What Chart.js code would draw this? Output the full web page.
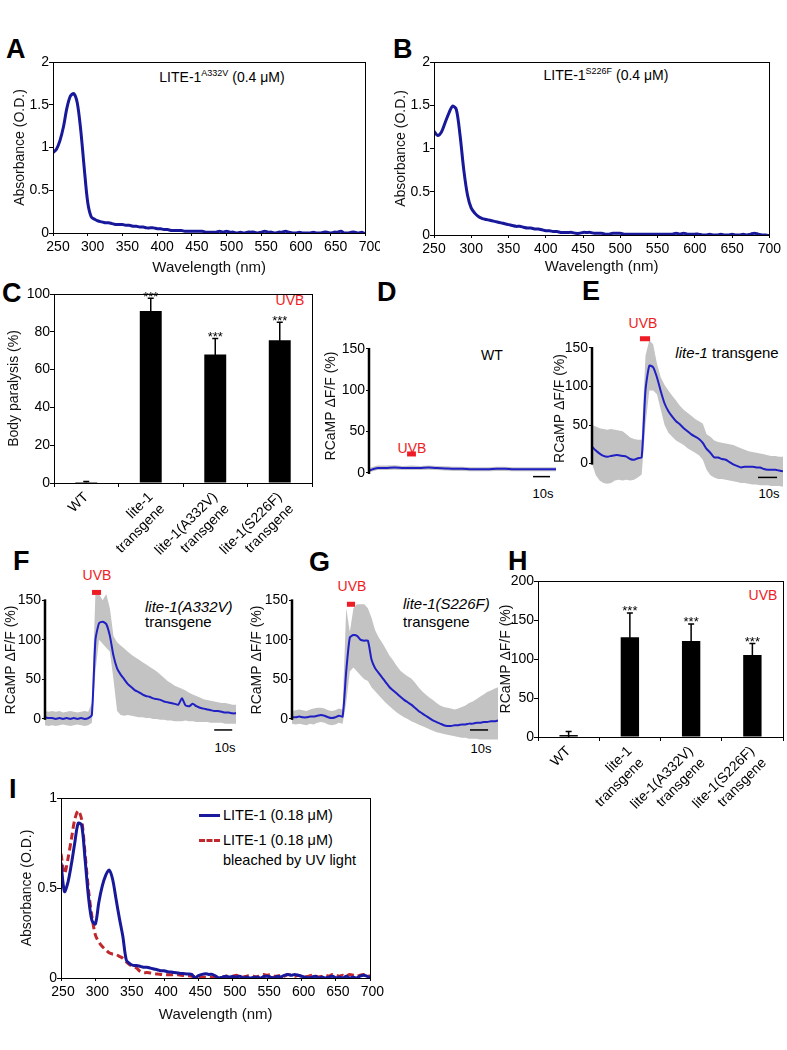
<!DOCTYPE html>
<html>
<head>
<meta charset="utf-8">
<script src="https://cdn.jsdelivr.net/npm/chart.js@4.4.1/dist/chart.umd.min.js"></script>
<style>
  html, body { margin: 0; padding: 0; background: #fff; }
  #fig { position: relative; width: 787px; height: 1050px; overflow: hidden; font-family: 'Liberation Sans', Arial, sans-serif; color: #000; }
  #fig canvas { position: absolute; }
  .t { position: absolute; transform: translate(-50%, -50%); white-space: nowrap; font-size: 14px; line-height: 1; }
  .l { position: absolute; transform: translateY(-50%); white-space: nowrap; font-size: 15px; line-height: 1; }
  .letter { position: absolute; font-weight: bold; font-size: 27px; line-height: 1; }
  .uvb { color: #ee1c24; }
  sup { font-size: 9px; vertical-align: 6px; line-height: 0; }
  .key { position: absolute; width: 21px; height: 0; }
</style>
</head>
<body>
<div id="fig">
  <div class="letter" style="left:6px;top:36px">A</div>
  <div class="letter" style="left:393px;top:36px">B</div>
  <div class="letter" style="left:2px;top:280px">C</div>
  <div class="letter" style="left:377px;top:279px">D</div>
  <div class="letter" style="left:582px;top:278px">E</div>
  <div class="letter" style="left:13px;top:548px">F</div>
  <div class="letter" style="left:309px;top:549px">G</div>
  <div class="letter" style="left:508px;top:548px">H</div>
  <div class="letter" style="left:9px;top:776px">I</div>

  <div class="t" style="left:222px;top:77px">LITE-1<sup>A332V</sup> (0.4 μM)</div>
  <div class="t" style="left:606px;top:75px">LITE-1<sup>S226F</sup> (0.4 μM)</div>

  <div class="t uvb" style="left:290px;top:300px">UVB</div>
  <div class="t uvb" style="left:763px;top:595px">UVB</div>

  <div class="t" style="left:492px;top:355px">WT</div>
  <div class="t uvb" style="left:412px;top:448px">UVB</div>
  <div class="t" style="left:543px;top:493px;font-size:13px">10s</div>

  <div class="t" style="left:727px;top:352px;font-size:15px"><i>lite-1</i> transgene</div>
  <div class="t uvb" style="left:643px;top:323px">UVB</div>
  <div class="t" style="left:769px;top:493px;font-size:13px">10s</div>

  <div class="l" style="left:145px;top:606px"><i>lite-1(A332V)</i></div>
  <div class="l" style="left:145px;top:621px">transgene</div>
  <div class="t uvb" style="left:97px;top:575px">UVB</div>
  <div class="t" style="left:225px;top:747px;font-size:13px">10s</div>

  <div class="l" style="left:403px;top:603px"><i>lite-1(S226F)</i></div>
  <div class="l" style="left:403px;top:621px">transgene</div>
  <div class="t uvb" style="left:352px;top:586px">UVB</div>
  <div class="t" style="left:481px;top:748px;font-size:13px">10s</div>

  <div class="key" style="left:199px;top:814px;border-top:3px solid #1a1a9c"></div>
  <div class="l" style="left:223px;top:815px;font-size:14.5px">LITE-1 (0.18 μM)</div>
  <div class="key" style="left:199px;top:839px;border-top:3px dashed #c0282d"></div>
  <div class="l" style="left:223px;top:840px;font-size:14.5px">LITE-1 (0.18 μM)</div>
  <div class="l" style="left:223px;top:860px;font-size:14.5px">bleached by UV light</div>
</div>

<script>
// ---- data ----
const wavelengths = [250,255,260,265,270,275,280,285,290,295,300,305,310,315,320,325,330,335,340,345,
  350,355,360,365,370,375,380,385,390,395,400,405,410,415,420,425,430,435,440,445,
  450,455,460,465,470,475,480,485,490,495,500,505,510,515,520,525,530,535,540,545,
  550,555,560,565,570,575,580,585,590,595,600,605,610,615,620,625,630,635,640,645,
  650,655,660,665,670,675,680,685,690,695,700];

const absA332V = [0.94,0.98,1.08,1.24,1.46,1.60,1.63,1.52,1.20,0.76,0.36,0.19,0.16,0.14,0.13,0.12,0.12,0.11,0.10,0.10,
  0.10,0.09,0.09,0.08,0.08,0.07,0.07,0.06,0.06,0.06,0.05,0.05,0.04,0.04,0.03,0.03,0.03,0.03,0.02,0.02,
  0.02,0.02,0.02,0.02,0.01,0.01,0.01,0.01,0.02,0.01,0.02,0.01,0.01,0.00,0.01,0.00,0.01,0.01,0.01,0.00,
  0.01,0.02,0.01,0.01,0.00,0.01,0.01,0.02,0.01,0.00,0.00,0.01,0.00,0.00,0.00,0.01,0.00,0.00,0.01,0.01,
  0.00,0.01,0.01,0.02,0.00,0.00,0.01,0.01,0.00,0.01,-0.01];

const absS226F = [1.20,1.15,1.19,1.30,1.41,1.49,1.45,1.15,0.75,0.46,0.31,0.25,0.21,0.19,0.18,0.17,0.16,0.15,0.14,0.13,
  0.12,0.11,0.10,0.10,0.09,0.08,0.08,0.07,0.07,0.06,0.05,0.05,0.04,0.04,0.03,0.03,0.03,0.03,0.02,0.02,
  0.03,0.03,0.03,0.02,0.02,0.02,0.01,0.01,0.02,0.02,0.02,0.01,0.01,0.01,0.01,0.01,0.01,0.01,0.01,0.01,
  0.01,0.01,0.01,0.01,0.01,0.02,0.01,0.02,0.01,0.01,0.01,0.01,0.00,0.00,0.01,0.00,0.00,0.01,0.00,0.00,
  0.01,0.00,0.00,0.01,0.00,0.01,0.02,0.01,0.00,0.00,-0.01];

const absLite1 = [0.64,0.48,0.53,0.63,0.75,0.86,0.85,0.66,0.45,0.32,0.30,0.42,0.51,0.57,0.60,0.55,0.44,0.33,0.23,0.10,
  0.08,0.07,0.07,0.065,0.06,0.06,0.055,0.05,0.046,0.04,0.04,0.035,0.033,0.03,0.028,0.025,0.024,0.022,0.02,0.0,
  0.013,0.02,0.024,0.02,0.02,0.01,0.0,0.005,0.01,0.005,0.008,0.005,0.01,0.0,0.005,0.0,0.003,0.005,0.0,0.008,
  0.01,0.005,0.0,0.01,0.005,0.015,0.02,0.015,0.02,0.015,0.01,0.005,0.0,0.005,0.01,0.0,0.005,0.0,0.005,0.01,
  0.0,0.005,0.0,0.01,0.0,0.005,0.0,0.01,0.015,0.01,0.0];

const absLite1Bleached = [0.69,0.58,0.66,0.77,0.88,0.93,0.88,0.69,0.49,0.34,0.24,0.20,0.175,0.157,0.14,0.133,0.13,0.12,0.11,0.09,
  0.074,0.065,0.055,0.037,0.03,0.03,0.028,0.025,0.022,0.02,0.018,0.018,0.018,0.018,0.018,0.015,0.013,0.012,0.01,0.008,
  0.005,0.005,0.004,0.004,0.005,0.003,0.0,0.005,0.01,0.015,0.01,0.015,0.01,0.005,0.01,0.015,0.01,0.005,0.015,0.02,
  0.015,0.02,0.01,0.01,0.015,0.01,0.02,0.015,0.01,0.015,0.01,0.005,0.01,0.015,0.01,0.005,0.01,0.015,0.01,0.02,
  0.015,0.01,0.015,0.01,0.02,0.015,0.01,0.015,0.02,0.015,0.01];

const groupLabels = ['WT', ['lite-1', 'transgene'], ['lite-1(A332V)', 'transgene'], ['lite-1(S226F)', 'transgene']];
const paralysis = [0.5, 91, 68, 75.5];
const paralysisSD = [0.3, 6.7, 8.5, 9.5];
const rcampPeak = [2.5, 128, 123, 105];
const rcampPeakSD = [4.5, 31, 22, 15];
const stars = ['', '***', '***', '***'];

const rcampTicks = [0, 50, 100, 150];

// D: wild type, 5 s samples
const timeD = [0,5,10,15,20,25,30,35,40,45,50,55,60,65,70,75,80,85,90,95,100,105,110];
const meanD = [3,6,6,6.5,6,6,6,6.5,6,5.5,5,5,4.5,4.5,4.5,5,5,4.5,4.5,4.5,4.5,4.5,4.5];
const upperD = [6,9,9,9.5,8.5,9,8.5,9,8.5,8,7.5,7.5,7,7,7,7.5,7.5,7,7,7,7,7,7];
const lowerD = [1,3.5,3.5,4,3.5,3.5,3.5,4,3.5,3,2.5,2.5,2,2,2,2.5,2.5,2,2,2,2,2,2];
const uvbD = [22.4, 27.6];
const scaleBarD = [96.5, 106.5];

// E: lite-1 transgene, 2 s samples
const timeE = [0,2,4,6,8,10,12,14,16,18,20,22,24,26,28,30,32,34,36,38,40,42,44,46,48,50,
  52,54,56,58,60,62,64,66,68,70,72,74,76,78,80,82,84,86,88,90,92,94,96,98,100];
const meanE = [22,17,13,10,9,10,11,11,10,9,6,5,7,8,95,127,125,112,94,78,68,61,55,51,46,42,
  38,35,32,27,19,14,8,8,6,5,2,-1,-3,-5,-4,-4,-4,-5,-5,-7,-8,-8,-8,-9,-10];
const upperE = [50,48,46,45,44,45,44,43,42,38,34,32,31,31,140,160,155,130,112,102,95,88,82,75,70,66,
  62,58,55,52,38,35,30,28,27,26,25,24,22,20,18,16,15,14,13,12,11,10,10,9,9];
const lowerE = [0,-15,-22,-25,-26,-25,-22,-21,-22,-21,-22,-21,-18,-14,50,95,95,90,70,50,40,35,30,27,24,20,
  17,14,11,5,-8,-15,-18,-20,-20,-21,-22,-23,-24,-25,-25,-26,-27,-27,-28,-28,-28,-29,-29,-29,-30];
const uvbE = [25.1, 30.4];
const scaleBarE = [86.9, 96.9];

// F: lite-1(A332V) transgene
const timeF = [0,2,4,6,8,10,12,14,16,18,20,22,24,26,28,30,32,34,36,38,40,42,44,46,48,50,52,
  54,56,58,60,62,64,66,68,70,72,74,76,78,80,82,84,86,88,90,92,94,96,98,100,102,104,106];
const meanF = [2,1,1,0,1,0,1,0,1,0,1,0,1,5,100,121,123,120,105,80,64,56,50,44,40,36,34,
  31,29,28,26,25,24,22,21,20,19,18,26,17,16,19,16,14,13,12,11,10,10,9,8,8,7,7];
const upperF = [10,9,10,9,10,8,9,10,9,8,9,10,9,20,160,158,150,158,140,105,97,93,89,85,81,78,75,
  72,69,66,63,60,56,52,48,45,42,40,38,36,33,31,29,27,25,24,23,22,21,20,20,19,18,18];
const lowerF = [-8,-9,-8,-9,-8,-7,-8,-9,-8,-7,-8,-9,-8,-5,60,100,95,90,85,50,10,5,4,5,4,3,2,
  2,1,1,0,0,-1,-1,-2,-2,-3,-3,-3,-2,-3,-3,-4,-4,-4,-4,-5,-5,-5,-5,-6,-6,-6,-6];
const uvbF = [26.1, 31.1];
const scaleBarF = [93.9, 103.9];

// G: lite-1(S226F) transgene
const timeG = [0,2,4,6,8,10,12,14,16,18,20,22,24,26,28,30,32,34,36,38,40,42,44,46,48,50,52,54,56,
  58,60,62,64,66,68,70,72,74,76,78,80,82,84,86,88,90,92,94,96,98,100,102,104,106,108,110,112,114];
const meanG = [2,2,3,2,2,3,3,4,5,4,2,1,2,4,3,60,103,106,105,100,99,99,75,64,58,52,46,40,36,
  32,28,24,21,18,14,10,7,4,1,-2,-4,-6,-8,-9,-9,-8,-8,-7,-7,-6,-6,-5,-5,-4,-4,-3,-3,-2];
const upperG = [10,11,12,11,10,12,13,14,14,13,11,10,11,13,12,140,110,140,145,145,145,140,128,112,103,96,88,80,74,
  67,61,57,54,51,46,40,35,31,27,24,20,17,15,14,13,12,13,15,17,20,22,25,28,31,34,36,38,40];
const lowerG = [-6,-7,-6,-7,-8,-6,-7,-5,-4,-5,-7,-8,-7,-5,-6,20,60,65,60,55,50,48,40,35,30,25,20,16,12,
  8,5,2,0,-3,-5,-7,-9,-11,-13,-15,-17,-18,-19,-20,-21,-22,-23,-24,-24,-25,-25,-25,-26,-26,-26,-26,-26,-26];
const uvbG = [30.4, 34.9];
const scaleBarG = [98.5, 108.5];

// ---- drawing ----
Chart.defaults.font.family = "'Liberation Sans', Arial, sans-serif";
Chart.defaults.color = '#000';

const SPEC_BLUE = '#18189a';
const TRACE_BLUE = '#1f1fc4';
const UVB_RED = '#ee1c24';
const BAND_GREY = '#c3c3c3';

const fig = document.getElementById('fig');

function xy(xs, ys) {
  return xs.map((x, i) => ({ x, y: ys[i] }));
}

// a: chart area in page pixels plus title position; returns canvas box and paddings
function geometry(a) {
  const L = Math.round(a.yTitleX - 9);
  const T = Math.round(a.top - a.pt);
  const xh = a.xh || 0;
  const W = Math.round(a.right + a.pr - L);
  const H = Math.round(a.bottom + xh + (a.pb || 0) - T);
  return {
    L, T, W, H, xh,
    yw: a.left - L,
    pt: a.top - T,
    pr: L + W - a.right,
    pb: H - (a.bottom + xh - T),
    titlePad: a.yTitleX - L - 8.4,
  };
}

function addCanvas(g) {
  const c = document.createElement('canvas');
  c.width = g.W;
  c.height = g.H;
  c.style.left = g.L + 'px';
  c.style.top = g.T + 'px';
  fig.appendChild(c);
  return c;
}

const framePlugin = {
  id: 'frame',
  afterDatasetsDraw(chart) {
    const { ctx, chartArea: a } = chart;
    ctx.save();
    ctx.strokeStyle = '#000';
    ctx.lineWidth = 1;
    ctx.strokeRect(Math.round(a.left) + 0.5, Math.round(a.top) + 0.5,
      Math.round(a.right - a.left), Math.round(a.bottom - a.top));
    ctx.restore();
  },
};

const partialAxis = {
  id: 'partialAxis',
  afterDatasetsDraw(chart) {
    const { ctx, chartArea, scales } = chart;
    const x = chartArea.left;
    ctx.save();
    ctx.strokeStyle = '#000';
    ctx.lineWidth = 2.5;
    ctx.beginPath();
    ctx.moveTo(x, scales.y.getPixelForValue(rcampTicks[0]) + 1);
    ctx.lineTo(x, scales.y.getPixelForValue(rcampTicks[rcampTicks.length - 1]) - 1);
    ctx.stroke();
    ctx.restore();
  },
};

function errorBars(sd, marks) {
  return {
    id: 'errorBars',
    afterDatasetsDraw(chart) {
      const { ctx, scales } = chart;
      const meta = chart.getDatasetMeta(0);
      const values = chart.data.datasets[0].data;
      ctx.save();
      ctx.strokeStyle = '#000';
      ctx.fillStyle = '#000';
      ctx.lineWidth = 1.5;
      ctx.font = "13px 'Liberation Sans', Arial, sans-serif";
      ctx.textAlign = 'center';
      ctx.textBaseline = 'alphabetic';
      meta.data.forEach((bar, i) => {
        const top = scales.y.getPixelForValue(values[i] + sd[i]);
        const bottom = scales.y.getPixelForValue(Math.max(0, values[i] - sd[i]));
        ctx.beginPath();
        ctx.moveTo(bar.x, bottom);
        ctx.lineTo(bar.x, top);
        ctx.moveTo(bar.x - 3, top);
        ctx.lineTo(bar.x + 3, top);
        ctx.stroke();
        if (marks[i]) ctx.fillText(marks[i], bar.x, top + 2.5);
      });
      ctx.restore();
    },
  };
}

function yAxis(g, min, max, step, title, extra) {
  return Object.assign({
    min, max,
    ticks: { stepSize: step, font: { size: 14 }, padding: 0, callback: (v) => String(v) },
    grid: { drawOnChartArea: false, tickLength: 4, color: '#000' },
    border: { display: false },
    title: { display: true, text: title, font: { size: 14 }, color: '#111', padding: { top: g.titlePad, bottom: 0 } },
    afterFit(s) { s.width = g.yw; },
  }, extra || {});
}

function baseOptions(g) {
  return {
    responsive: false,
    animation: false,
    events: [],
    layout: { padding: { left: 0, top: g.pt, right: g.pr, bottom: g.pb } },
    plugins: { legend: { display: false }, tooltip: { enabled: false } },
  };
}

function spectrumChart(area, datasets, yMax, labelOffset) {
  const g = geometry(area);
  const opts = baseOptions(g);
  opts.scales = {
    x: {
      type: 'linear', min: 250, max: 700,
      ticks: { stepSize: 50, font: { size: 14 }, padding: 3, maxRotation: 0, labelOffset: labelOffset || 0 },
      grid: { drawOnChartArea: false, tickLength: 3, color: '#000' },
      border: { display: false },
      title: { display: true, text: 'Wavelength (nm)', font: { size: 15 }, color: '#111', padding: { top: 0, bottom: 0 } },
      afterFit(s) { s.height = g.xh; },
    },
    y: yAxis(g, 0, yMax, 0.5, 'Absorbance (O.D.)'),
  };
  new Chart(addCanvas(g), { type: 'line', data: { datasets }, options: opts, plugins: [framePlugin] });
}

function specLine(values, color, dash) {
  return {
    data: xy(wavelengths, values),
    borderColor: color,
    borderWidth: 3,
    borderDash: dash || [],
    pointRadius: 0,
    tension: 0.3,
    fill: false,
  };
}

function barChart(area, values, sd, title, yMax, yStep, barPct) {
  const g = geometry(area);
  const opts = baseOptions(g);
  opts.scales = {
    x: {
      ticks: { font: { size: 14 }, minRotation: 45, maxRotation: 45, padding: 2, autoSkip: false },
      grid: { drawOnChartArea: false, tickLength: 4, color: '#000', offset: true },
      border: { display: false },
      afterFit(s) { s.height = g.xh; },
    },
    y: yAxis(g, 0, yMax, yStep, title),
  };
  new Chart(addCanvas(g), {
    type: 'bar',
    data: {
      labels: groupLabels,
      datasets: [{ data: values, backgroundColor: '#000', barPercentage: barPct, categoryPercentage: 1 }],
    },
    options: opts,
    plugins: [framePlugin, errorBars(sd, stars)],
  });
}

// trace panel: x0/x1 page px of time range, zeroY/topY page px of 0 and 150
function traceChart(p) {
  const k = (p.zeroY - p.topY) / 150;
  const g = geometry({
    left: p.x0, right: p.x1,
    top: p.zeroY - p.ymax * k, bottom: p.zeroY - p.ymin * k,
    yTitleX: p.yTitleX, pt: 2, pr: 3, pb: 2,
  });
  const opts = baseOptions(g);
  opts.scales = {
    x: { type: 'linear', min: p.time[0], max: p.time[p.time.length - 1], display: false },
    y: yAxis(g, p.ymin, p.ymax, 50, 'RCaMP ΔF/F (%)', {
      afterBuildTicks(s) { s.ticks = rcampTicks.map(v => ({ value: v })); },
      ticks: { font: { size: 14 }, padding: 1 },
      grid: { drawOnChartArea: false, tickLength: 3, color: '#000' },
    }),
  };
  const clear = 'rgba(0,0,0,0)';
  // lower "order" is painted later, so the markers sit on top of the band
  const datasets = [
    { data: xy(p.time, p.mean), order: 0, borderColor: TRACE_BLUE, borderWidth: 2, pointRadius: 0, tension: 0.2, fill: false },
    { data: xy(p.time, p.upper), order: 1, borderColor: clear, borderWidth: 1, pointRadius: 0, fill: false },
    { data: xy(p.time, p.lower), order: 1, borderColor: clear, borderWidth: 1, pointRadius: 0, fill: '-1', backgroundColor: BAND_GREY },
    { data: p.uvb.map(t => ({ x: t, y: p.uvbY })), order: -1, borderColor: UVB_RED, borderWidth: 5, borderCapStyle: 'butt', pointRadius: 0, clip: false },
    { data: p.bar.map(t => ({ x: t, y: p.barY })), order: -1, borderColor: '#000', borderWidth: 1.5, pointRadius: 0, clip: false },
  ];
  new Chart(addCanvas(g), { type: 'line', data: { datasets }, options: opts, plugins: [partialAxis] });
}

// A, B
spectrumChart({ left: 53, top: 62, right: 366, bottom: 233, yTitleX: 20, pt: 12, pr: 14, xh: 44 },
  [specLine(absA332V, SPEC_BLUE)], 2, 5);
spectrumChart({ left: 434, top: 62, right: 770, bottom: 235, yTitleX: 401, pt: 12, pr: 14, xh: 41 },
  [specLine(absS226F, SPEC_BLUE)], 2, 0);

// C, H
barChart({ left: 54, top: 294, right: 312, bottom: 483, yTitleX: 14, pt: 12, pr: 4, xh: 80 },
  paralysis, paralysisSD, 'Body paralysis (%)', 100, 20, 0.34);
barChart({ left: 538, top: 581, right: 783, bottom: 737, yTitleX: 506, pt: 12, pr: 3, xh: 90 },
  rcampPeak, rcampPeakSD, 'RCaMP ΔF/F (%)', 200, 50, 0.3);

// D, E, F, G
traceChart({ x0: 369, x1: 556, zeroY: 480, topY: 343, ymin: -8, ymax: 170, yTitleX: 331,
  time: timeD, mean: meanD, upper: upperD, lower: lowerD, uvb: uvbD, uvbY: 23, bar: scaleBarD, barY: -4.4 });
traceChart({ x0: 592, x1: 783, zeroY: 469, topY: 343, ymin: -35, ymax: 178, yTitleX: 560,
  time: timeE, mean: meanE, upper: upperE, lower: lowerE, uvb: uvbE, uvbY: 162, bar: scaleBarE, barY: -17.9 });
traceChart({ x0: 45, x1: 236, zeroY: 724, topY: 595, ymin: -30, ymax: 179, yTitleX: 11,
  time: timeF, mean: meanF, upper: upperF, lower: lowerF, uvb: uvbF, uvbY: 160, bar: scaleBarF, barY: -14 });
traceChart({ x0: 292, x1: 498, zeroY: 724, topY: 595, ymin: -30, ymax: 179, yTitleX: 257,
  time: timeG, mean: meanG, upper: upperG, lower: lowerG, uvb: uvbG, uvbY: 145, bar: scaleBarG, barY: -14 });

// I
spectrumChart({ left: 61, top: 798, right: 371, bottom: 978, yTitleX: 27, pt: 12, pr: 14, xh: 46 },
  [specLine(absLite1, SPEC_BLUE), specLine(absLite1Bleached, '#c0282d', [7, 4])], 1, 2);
</script>
</body>
</html>
